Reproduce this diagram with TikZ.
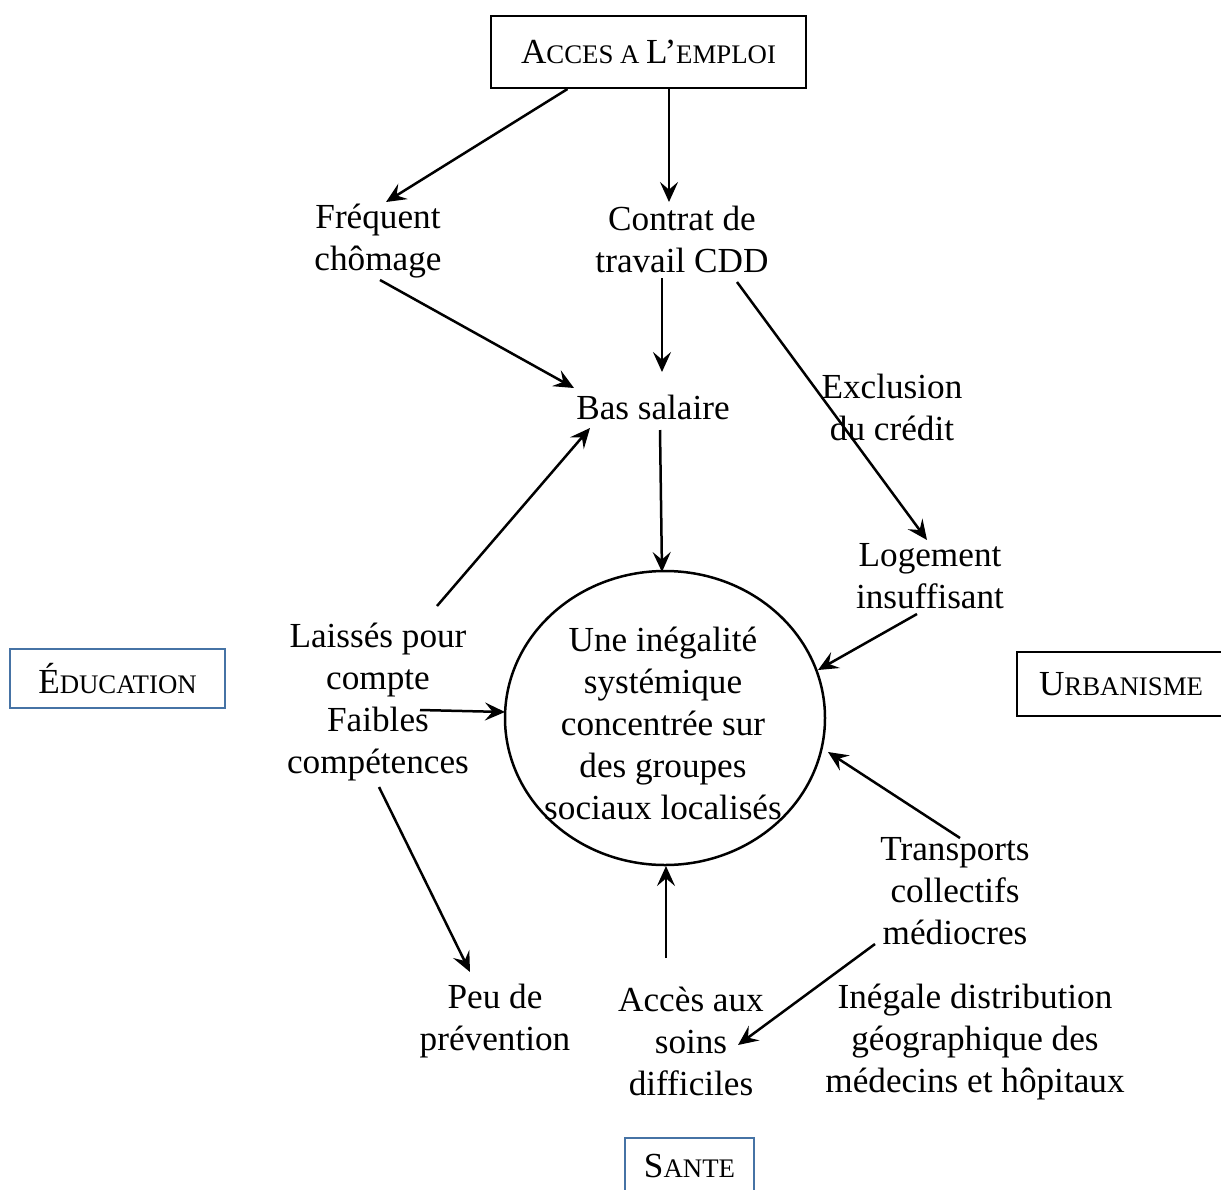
\documentclass[tikz,border=0pt]{standalone}
\usepackage{fontspec}
\setmainfont{Liberation Serif}
\usetikzlibrary{arrows.meta,calc,shapes.geometric}
\definecolor{boxblue}{RGB}{70,115,165}
\newcommand\smc[2]{#1{\fontsize{13.4}{13.4}\selectfont #2}}
\begin{document}
\begin{tikzpicture}[x=0.5pt,y=-0.5pt,
  lbl/.style={align=center,font=\fontsize{17.6}{21}\selectfont,inner sep=0pt},
  boxed/.style={draw,line width=1.4pt,font=\fontsize{17.6}{21}\selectfont,inner sep=0pt},
  bluebox/.style={boxed,draw=boxblue},
  arr/.style={-{Stealth[length=10pt,width=9pt,inset=3.8pt]},line width=1.25pt}]
\useasboundingbox (0,0) rectangle (1221,1189);
% boxes
\node[boxed,minimum width=157.5pt,minimum height=36pt] (acces) at (648.5,52) {\smc{A}{CCES A }L\smc{'}{EMPLOI}};
\node[bluebox,minimum width=107.5pt,minimum height=29.5pt] (educ) at (117.5,678.5) {\smc{É}{DUCATION}};
\node[boxed,minimum width=104pt,minimum height=32pt] (urb) at (1121,684) {\smc{U}{RBANISME}};
\node[bluebox,minimum width=64.5pt,minimum height=28pt] (sante) at (689.5,1166) {\smc{S}{ANTE}};
% labels
\node[lbl] (freq) at (378,241) {Fréquent\\chômage};
\node[lbl] (contrat) at (682,239) {Contrat de\\travail CDD};
\node[lbl] (bas) at (653,407) {Bas salaire};
\node[lbl] (excl) at (892,407) {Exclusion\\du crédit};
\node[lbl] (loge) at (930,576) {Logement\\insuffisant};
\node[lbl] (laisses) at (378,702) {Laissés pour\\compte\\Faibles\\compétences};
\node[ellipse,draw,line width=1.25pt,inner sep=0pt,minimum width=160pt,minimum height=147pt] (circ) at (665,718) {};
\node[lbl] (ctext) at (663,723) {Une inégalité\\systémique\\concentrée sur\\des groupes\\sociaux localisés};
\node[lbl] (trans) at (955,891) {Transports\\collectifs\\médiocres};
\node[lbl] (peu) at (495,1021) {Peu de\\prévention};
\node[lbl] (acc) at (691,1041) {Accès aux\\soins\\difficiles};
\node[lbl] (ineg) at (975,1042) {Inégale distribution\\géographique des\\médecins et hôpitaux};
% arrows
\draw[arr] ($(acces)+(-81,37)$) -- ($(freq)+(8,-39)$);
\draw[arr] ($(acces)+(20.5,37)$) -- ($(contrat)+(-13,-37)$);
\draw[arr] ($(freq)+(2,39)$) -- ($(bas)+(-79,-19)$);
\draw[arr] ($(contrat)+(-20,39)$) -- ($(bas)+(9,-35)$);
\draw[arr] ($(contrat)+(55,43)$) -- ($(loge)+(-3,-36)$);
\draw[arr] ($(bas)+(7,23)$) -- ($(circ)+(-3,-146)$);
\draw[arr] ($(laisses)+(59,-96)$) -- ($(bas)+(-63,21)$);
\draw[arr] ($(laisses)+(42,8)$) -- ($(circ)+(-160,-6)$);
\draw[arr] ($(loge)+(-13,38)$) -- ($(circ)+(153,-48)$);
\draw[arr] ($(trans)+(5,-53)$) -- ($(circ)+(163,34)$);
\draw[arr] ($(laisses)+(1,85)$) -- ($(peu)+(-25,-49)$);
\draw[arr] ($(acc)+(-25,-83)$) -- ($(circ)+(1,148)$);
\draw[arr] ($(trans)+(-80,53)$) -- ($(acc)+(47,4)$);
\end{tikzpicture}
\end{document}
